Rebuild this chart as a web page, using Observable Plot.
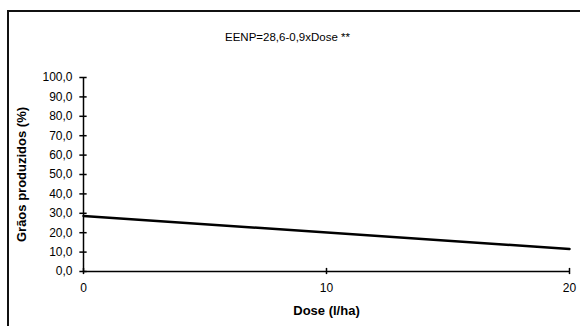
<!DOCTYPE html>
<html>
<head>
<meta charset="utf-8">
<script src="https://cdn.jsdelivr.net/npm/d3@7"></script>
<script src="https://cdn.jsdelivr.net/npm/@observablehq/plot@0.6"></script>
<style>
  html, body { margin: 0; padding: 0; background: #fff; overflow: hidden; width: 580px; height: 326px; }
  #wrap { position: relative; width: 580px; height: 326px; }
  #frame { position: absolute; left: 7px; top: 10px; width: 600px; height: 400px; border: 2px solid #111; box-sizing: border-box; pointer-events: none; }
  #chart { position: absolute; left: 0; top: 0; }
</style>
</head>
<body>
<div id="wrap"><div id="chart"></div><div id="frame"></div></div>
<script>
const doses = [0, 20];
const grains = [28.6, 11.6];
const xTicks = [0, 10, 20];
const yTicks = [0, 10, 20, 30, 40, 50, 60, 70, 80, 90, 100];
const title = "EENP=28,6-0,9xDose **";
const xLabel = "Dose (l/ha)";
const yLabel = "Grãos produzidos (%)";

const data = doses.map((d, i) => ({dose: d, value: grains[i]}));
const fmt = d => d.toFixed(1).replace(".", ",");
const font = "'Liberation Sans', Arial, sans-serif";

const chart = Plot.plot({
  width: 580,
  height: 326,
  marginLeft: 83,
  marginRight: 11,
  marginTop: 77,
  marginBottom: 55,
  style: {fontFamily: font, fontSize: "12px", color: "#000", background: "transparent"},
  x: {domain: [0, 20]},
  y: {domain: [0, 100]},
  marks: [
    Plot.axisY(yTicks, {tickSize: 0, tickPadding: 11, tickFormat: fmt, label: null, fontSize: 12}),
    Plot.axisX(xTicks, {tickSize: 0, tickPadding: 12, tickFormat: d => String(d), label: null, fontSize: 12}),
    Plot.ruleY(yTicks, {y: d => d, x1: -0.15, x2: 0.15, stroke: "#000", strokeWidth: 1.5}),
    Plot.ruleX(xTicks, {x: d => d, y1: -1.6, y2: 1.6, stroke: "#000", strokeWidth: 1.5}),
    Plot.ruleX([0], {y1: 0, y2: 100, stroke: "#000", strokeWidth: 1.5}),
    Plot.ruleY([0], {x1: 0, x2: 20, stroke: "#000", strokeWidth: 1.5}),
    Plot.line(data, {x: "dose", y: "value", stroke: "#000", strokeWidth: 2.5}),
    Plot.text([title], {frameAnchor: "top", dy: -45, dx: -39, fontSize: 11.5, fill: "#000"}),
    Plot.text([xLabel], {frameAnchor: "bottom", dy: 43, fontSize: 13, fontWeight: "bold", fill: "#000"}),
    Plot.text([yLabel], {frameAnchor: "left", textAnchor: "middle", dx: -62, rotate: -90, fontSize: 13, fontWeight: "bold", fill: "#000"})
  ]
});
document.getElementById("chart").appendChild(chart);
</script>
</body>
</html>
